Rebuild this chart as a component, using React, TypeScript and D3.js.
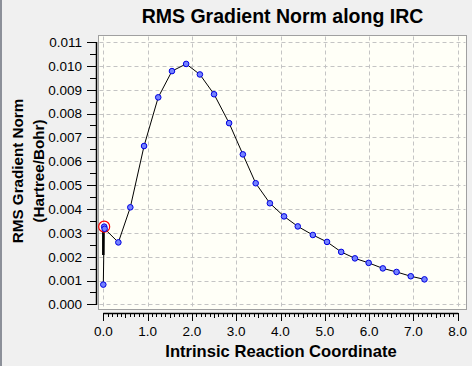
import React, { useEffect } from 'react'
import * as d3 from 'd3'

// IRC points
const ircCoord = [0.0, 0.02, 0.03, 0.34, 0.61, 0.92, 1.24, 1.55, 1.87, 2.18, 2.50, 2.84, 3.15, 3.44, 3.76, 4.08, 4.39, 4.73, 5.05, 5.37, 5.68, 5.99, 6.31, 6.62, 6.94, 7.25]
const rmsGrad = [0.00083, 0.00326, 0.00317, 0.00260, 0.00407, 0.00664, 0.00868, 0.00978, 0.01008, 0.00964, 0.00881, 0.00760, 0.00629, 0.00508, 0.00424, 0.00369, 0.00327, 0.00291, 0.00262, 0.00220, 0.00193, 0.00174, 0.00151, 0.00136, 0.00118, 0.00105]
// overlapping segment drawn heavier near the start
const overlapCoord = [0.0, 0.0]
const overlapGrad = [0.00207, 0.00305]
const currentIndex = 1

const xTicks = [0, 1, 2, 3, 4, 5, 6, 7, 8]
const yTicks = [0, 0.001, 0.002, 0.003, 0.004, 0.005, 0.006, 0.007, 0.008, 0.009, 0.010, 0.011]

const title = 'RMS Gradient Norm along IRC'
const xLabel = 'Intrinsic Reaction Coordinate'
const yLabel1 = 'RMS Gradient Norm'
const yLabel2 = '(Hartree/Bohr)'

const W = 472
const H = 366
const plot = { left: 98.5, right: 466.5, top: 35.5, bottom: 309.5 }
const font = '"Liberation Sans", Arial, sans-serif'

export default function App () {
  useEffect(() => {
    document.body.style.margin = '0'
    document.body.style.background = '#f0f0f0'
  }, [])

  const x = d3.scaleLinear().domain([0, 8]).range([103.3, 457.7])
  const y = d3.scaleLinear().domain([0, 0.011]).range([304.4, 42])

  const pts: [number, number][] = ircCoord.map((c, i) => [c, rmsGrad[i]])
  const line = d3.line<[number, number]>().x(d => x(d[0])).y(d => y(d[1]))
  const overlap: [number, number][] = overlapCoord.map((c, i) => [c, overlapGrad[i]])

  const xMinor = d3.range(0, 80.5, 1).map(v => v / 10)
  const yMinor = d3.range(0, 22.5, 1).map(v => v / 2000)
  const axisY = 313

  return (
    <svg width={W} height={H} style={{ display: 'block', fontFamily: font }}>
      <rect x={0} y={0} width={W} height={H} fill='#f0f0f0' />
      <rect x={0} y={0} width={2} height={H} fill='#8c9099' />

      {/* plot area */}
      <rect x={plot.left} y={plot.top} width={plot.right - plot.left} height={plot.bottom - plot.top}
        fill='#fffff7' stroke='#a0a0a0' strokeWidth={1} />
      <g stroke='#c4c4c4' strokeWidth={1} strokeDasharray='4,3'>
        {yTicks.map(t => (
          <line key={'gy' + t} x1={plot.left + 1} x2={plot.right - 1} y1={Math.round(y(t)) + 0.5} y2={Math.round(y(t)) + 0.5} />
        ))}
        {xTicks.map(t => (
          <line key={'gx' + t} x1={Math.round(x(t)) + 0.5} x2={Math.round(x(t)) + 0.5} y1={plot.top + 1} y2={plot.bottom - 1} />
        ))}
      </g>

      {/* series */}
      <path d={line(pts) || ''} fill='none' stroke='#000' strokeWidth={1} />
      <path d={line(overlap) || ''} fill='none' stroke='#000' strokeWidth={2.5} />
      <circle cx={x(pts[currentIndex][0])} cy={y(pts[currentIndex][1])} r={5.5} fill='none' stroke='#ff0000' strokeWidth={1.2} />
      {pts.map((d, i) => (
        <circle key={i} cx={x(d[0])} cy={y(d[1])} r={2.8} fill='#7482ff' stroke='#0000e0' strokeWidth={1} />
      ))}

      {/* y axis */}
      <line x1={96.5} x2={96.5} y1={y(0.011)} y2={y(0) + 0.5} stroke='#000' strokeWidth={1.5} />
      {yMinor.map((t, i) => (
        <line key={'yt' + i} x1={i % 2 === 0 ? 87 : 90} x2={96} y1={Math.round(y(t)) + 0.5} y2={Math.round(y(t)) + 0.5} stroke='#000' strokeWidth={1} />
      ))}
      {yTicks.map(t => (
        <text key={'yl' + t} x={82} y={y(t)} dy='0.36em' textAnchor='end' fontSize={13.5} fill='#000'>{t.toFixed(3)}</text>
      ))}

      {/* x axis */}
      <line x1={x(0)} x2={x(8) + 0.5} y1={axisY + 0.5} y2={axisY + 0.5} stroke='#000' strokeWidth={1.5} />
      {xMinor.map((t, i) => (
        <line key={'xt' + i} x1={Math.round(x(t)) + 0.5} x2={Math.round(x(t)) + 0.5} y1={axisY} y2={i % 10 === 0 ? axisY + 8 : i % 5 === 0 ? axisY + 5 : axisY + 4} stroke='#000' strokeWidth={1} />
      ))}
      {xTicks.map(t => (
        <text key={'xl' + t} x={x(t)} y={336} textAnchor='middle' fontSize={13.5} fill='#000'>{t.toFixed(1)}</text>
      ))}

      {/* labels */}
      <text x={282.5} y={23} textAnchor='middle' fontSize={19.5} fontWeight='bold' fill='#000'>{title}</text>
      <text x={281} y={357} textAnchor='middle' fontSize={16.6} fontWeight='bold' fill='#000'>{xLabel}</text>
      <text transform='translate(23,171) rotate(-90)' textAnchor='middle' fontSize={15.2} fontWeight='bold' fill='#000'>{yLabel1}</text>
      <text transform='translate(44,171) rotate(-90)' textAnchor='middle' fontSize={15.2} fontWeight='bold' fill='#000'>{yLabel2}</text>
    </svg>
  )
}
